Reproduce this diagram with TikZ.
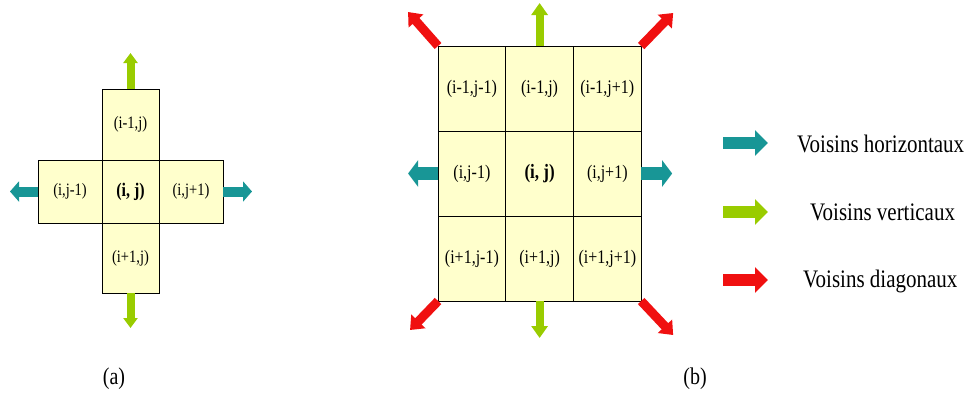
\documentclass[tikz,border=0pt]{standalone}
\usepackage{fontspec}
\usepackage{graphicx}
\setmainfont{Liberation Serif}
\usetikzlibrary{arrows.meta,positioning}

\definecolor{cellfill}{RGB}{255,255,204}
\definecolor{horzcol}{RGB}{24,150,150}
\definecolor{vertcol}{RGB}{153,204,0}
\definecolor{diagcol}{RGB}{240,16,16}

% text in the picture is a bit taller than wide
\newcommand{\tallt}[1]{\scalebox{1}[1.2]{#1}}

\tikzset{
  cell/.style={draw=black, line width=0.8pt, fill=cellfill, inner sep=0pt, outer sep=0pt,
    font=\fontsize{14.5}{16}\selectfont},
  bigcell/.style={cell, minimum width=67.7pt, minimum height=85pt,
    font=\fontsize{16}{18}\selectfont},
  horzA/.style={draw=horzcol, line width=10pt, -{Triangle[length=9pt,width=20pt]}},
  vertA/.style={draw=vertcol, line width=8pt, -{Triangle[length=10pt,width=14pt]}},
  horzB/.style={draw=horzcol, line width=13pt, -{Triangle[length=10pt,width=26pt]}},
  vertB/.style={draw=vertcol, line width=8pt, -{Triangle[length=12pt,width=16pt]}},
  diagB/.style={draw=diagcol, line width=9pt, -{Triangle[length=12pt,width=19pt]}},
  legarrow/.style={line width=12pt, -{Triangle[length=13pt,width=25pt]}},
  legtext/.style={anchor=base west, inner sep=0pt, font=\fontsize{21}{24}\selectfont},
  caption/.style={font=\fontsize{20}{22}\selectfont}
}

\begin{document}
\begin{tikzpicture}[x=1pt,y=-1pt]

\useasboundingbox (0,0) rectangle (965,394);

% (a) the cross of cells
\node[cell, minimum width=57pt, minimum height=63pt, font=\fontsize{16}{18}\selectfont\bfseries]
  (a-center) at (130.5,191.5) {\tallt{(i, j)}};
\node[cell, minimum width=57pt, minimum height=71pt] (a-up) [above=0pt of a-center] {\tallt{(i-1,j)}};
\node[cell, minimum width=57pt, minimum height=70pt] (a-down) [below=0pt of a-center] {\tallt{(i+1,j)}};
\node[cell, minimum width=64pt, minimum height=63pt] (a-left) [left=0pt of a-center] {\tallt{(i,j-1)}};
\node[cell, minimum width=64pt, minimum height=63pt] (a-right) [right=0pt of a-center] {\tallt{(i,j+1)}};

% (a) arrows
\draw[vertA] (a-up.north) -- ++(0,-36);
\draw[vertA] (a-down.south) -- ++(0,35);
\draw[horzA] (a-left.west) -- ++(-28,0);
\draw[horzA] (a-right.east) -- ++(29,0);

% (b) the 3x3 grid of cells
\foreach \r/\c/\lbl in {1/1/{(i-1,j-1)}, 1/2/{(i-1,j)}, 1/3/{(i-1,j+1)},
                        2/1/{(i,j-1)}, 2/3/{(i,j+1)},
                        3/1/{(i+1,j-1)}, 3/2/{(i+1,j)}, 3/3/{(i+1,j+1)}}
{
    \node[bigcell] (b-\r-\c) at ({404.2+67.7*\c},{3.5+85*\r}) {\tallt{\lbl}};
}
\node[bigcell, font=\fontsize{17}{19}\selectfont\bfseries] (b-2-2) at (539.6,173.5) {\tallt{(i, j)}};

% (b) arrows
\draw[vertB] (b-1-2.north) -- ++(0,-43);
\draw[vertB] (b-3-2.south) -- ++(0,37);
\draw[horzB] (b-2-1.west) -- ++(-30,0);
\draw[horzB] (b-2-3.east) -- ++(31,0);
\draw[diagB] (b-1-1.north west) -- ++(-30,-34);
\draw[diagB] (b-1-3.north east) -- ++(32,-33);
\draw[diagB] (b-3-1.south west) -- ++(-28,29);
\draw[diagB] (b-3-3.south east) -- ++(32,34);

% legend
\coordinate (leg-h) at (723,143);
\coordinate (leg-v) at (723,212);
\coordinate (leg-d) at (723,280);
\draw[legarrow, draw=horzcol] (leg-h) -- ++(45,0);
\draw[legarrow, draw=vertcol] (leg-v) -- ++(45,0);
\draw[legarrow, draw=diagcol] (leg-d) -- ++(45,0);
\node[legtext] (txt-h) at (797,152) {\tallt{Voisins horizontaux}};
\node[legtext] (txt-v) at (810,220) {\tallt{Voisins verticaux}};
\node[legtext] (txt-d) at (803,287) {\tallt{Voisins diagonaux}};

% captions
\node[caption] (cap-a) at (114,379) {\tallt{(a)}};
\node[caption] (cap-b) at (695,379) {\tallt{(b)}};

\end{tikzpicture}
\end{document}
